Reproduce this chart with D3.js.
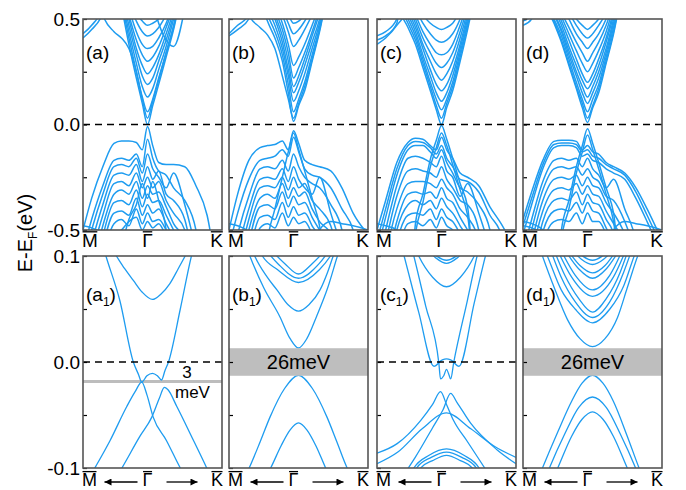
<!DOCTYPE html>
<html>
<head>
<meta charset="utf-8">
<script src="https://cdn.jsdelivr.net/npm/d3@7"></script>
<style>
  body { margin: 0; background: #fff; }
  svg { display: block; font-family: Arial, "Liberation Sans", sans-serif; }
</style>
</head>
<body>
<div id="chart"></div>
<script>
// k grid for the wide panels (M = -0.866, Gamma = 0, K = 1)
const kTop = [-0.866,-0.75,-0.6,-0.45,-0.35,-0.25,-0.15,-0.07,0,0.07,0.15,0.25,0.35,0.5,0.65,0.8,1];

// energies (eV) on kTop, one row per band (values beyond +-0.5 are clipped)
const bandsA = [
  [.9,.9,.9,.72,.56,.38,.22,.1,0,.09,.19,.32,.45,.7,.9,.9,.9],
  [.9,.9,.9,.73,.58,.41,.25,.13,.06,.12,.22,.34,.47,.72,.9,.9,.9],
  [.9,.9,.9,.75,.6,.44,.29,.18,.13,.17,.26,.37,.5,.74,.9,.9,.9],
  [.9,.9,.9,.76,.62,.47,.33,.23,.19,.22,.3,.4,.52,.76,.9,.9,.9],
  [.9,.9,.9,.78,.64,.5,.36,.28,.24,.27,.33,.43,.54,.78,.9,.9,.9],
  [.9,.9,.9,.8,.66,.52,.4,.33,.3,.32,.37,.46,.56,.8,.9,.9,.9],
  [.9,.9,.9,.8,.67,.55,.44,.38,.36,.37,.41,.48,.58,.8,.9,.9,.9],
  [.9,.9,.9,.8,.68,.58,.49,.44,.42,.43,.46,.52,.6,.8,.9,.9,.9],
  [.9,.9,.9,.8,.7,.6,.53,.49,.47,.48,.5,.55,.62,.8,.9,.9,.9],
  [.9,.9,.52,.44,.41,.36,.25,.12,.03,.11,.21,.34,.46,.72,.9,.9,.9],
  [.43,.47,.56,.9,.9,.9,.9,.9,.9,.9,.9,.9,.9,.9,.9,.9,.9],
  [.41,.45,.53,.9,.9,.9,.9,.9,.9,.9,.9,.9,.9,.9,.9,.9,.9],
  [.9,.9,.9,.9,.9,.9,.9,.9,.9,.6,.48,.4,.37,.55,.9,.9,.9],
  [-.5,-.35,-.2,-.09,-.078,-.078,-.085,-.12,-.01,-.1,-.18,-.19,-.19,-.2,-.29,-.43,-.9],
  [-.6,-.45,-.29,-.17,-.16,-.17,-.14,-.2,-.07,-.16,-.22,-.24,-.3,-.36,-.5,-.9,-.9],
  [-.66,-.5,-.33,-.2,-.19,-.2,-.16,-.23,-.14,-.21,-.25,-.3,-.23,-.38,-.6,-.9,-.9],
  [-.72,-.56,-.38,-.24,-.23,-.24,-.19,-.27,-.2,-.26,-.22,-.33,-.36,-.45,-.7,-.9,-.9],
  [-.8,-.62,-.43,-.28,-.27,-.29,-.23,-.3,-.25,-.3,-.27,-.36,-.42,-.5,-.8,-.9,-.9],
  [-.9,-.7,-.48,-.33,-.31,-.33,-.27,-.35,-.29,-.33,-.32,-.39,-.47,-.55,-.9,-.9,-.9],
  [-.9,-.78,-.53,-.37,-.36,-.38,-.31,-.39,-.33,-.37,-.36,-.43,-.5,-.6,-.9,-.9,-.9],
  [-.9,-.86,-.58,-.42,-.41,-.43,-.35,-.43,-.38,-.42,-.4,-.47,-.55,-.9,-.9,-.9,-.9],
  [-.9,-.9,-.63,-.47,-.45,-.48,-.4,-.47,-.42,-.46,-.45,-.5,-.58,-.9,-.9,-.9,-.9],
  [-.9,-.9,-.7,-.52,-.5,-.46,-.44,-.5,-.46,-.49,-.47,-.53,-.6,-.9,-.9,-.9,-.9],
  [-.48,-.49,-.52,-.9,-.9,-.9,-.9,-.9,-.9,-.9,-.9,-.9,-.9,-.9,-.9,-.9,-.9],
  [-.9,-.9,-.9,-.9,-.6,-.45,-.38,-.28,-.35,-.27,-.36,-.5,-.9,-.9,-.9,-.9,-.9]
];

const bandsB = [
  [.9,.9,.9,.6,.49,.41,.3,.15,.015,.09,.16,.3,.44,.7,.9,.9,.9],
  [.9,.9,.9,.62,.52,.44,.33,.19,.06,.12,.2,.33,.46,.72,.9,.9,.9],
  [.9,.9,.9,.65,.55,.47,.36,.23,.11,.16,.24,.36,.48,.74,.9,.9,.9],
  [.9,.9,.9,.68,.58,.5,.39,.26,.15,.2,.28,.39,.5,.76,.9,.9,.9],
  [.9,.9,.9,.7,.6,.52,.42,.3,.18,.23,.31,.42,.53,.78,.9,.9,.9],
  [.9,.9,.9,.72,.62,.54,.45,.34,.22,.27,.34,.44,.55,.8,.9,.9,.9],
  [.9,.9,.9,.75,.65,.57,.48,.38,.28,.32,.38,.47,.57,.8,.9,.9,.9],
  [.9,.9,.9,.78,.68,.6,.52,.44,.37,.4,.45,.52,.6,.8,.9,.9,.9],
  [.9,.9,.9,.8,.7,.62,.55,.48,.43,.45,.49,.55,.62,.8,.9,.9,.9],
  [.9,.9,.9,.8,.72,.64,.57,.52,.48,.49,.52,.57,.64,.8,.9,.9,.9],
  [.9,.9,.52,.46,.425,.36,.23,.12,.03,.1,.18,.31,.45,.7,.9,.9,.9],
  [.43,.47,.52,.9,.9,.9,.9,.9,.9,.9,.9,.9,.9,.9,.9,.9,.9],
  [.42,.45,.5,.9,.9,.9,.9,.9,.9,.9,.9,.9,.9,.9,.9,.9,.9],
  [-.5,-.33,-.17,-.11,-.1,-.095,-.078,-.12,-.03,-.09,-.17,-.19,-.2,-.22,-.3,-.42,-.52],
  [-.58,-.42,-.26,-.17,-.16,-.15,-.12,-.15,-.06,-.13,-.21,-.24,-.25,-.3,-.4,-.5,-.9],
  [-.9,-.9,-.9,-.9,-.55,-.4,-.25,-.13,-.04,-.12,-.22,-.35,-.48,-.9,-.9,-.9,-.9],
  [-.7,-.52,-.34,-.21,-.2,-.21,-.17,-.22,-.14,-.2,-.25,-.28,-.3,-.38,-.5,-.9,-.9],
  [-.78,-.6,-.4,-.26,-.25,-.26,-.21,-.27,-.2,-.26,-.3,-.33,-.25,-.42,-.6,-.9,-.9],
  [-.9,-.68,-.45,-.3,-.29,-.3,-.25,-.31,-.25,-.3,-.28,-.36,-.4,-.48,-.7,-.9,-.9],
  [-.9,-.76,-.5,-.35,-.33,-.35,-.28,-.35,-.3,-.34,-.32,-.4,-.46,-.52,-.9,-.9,-.9],
  [-.9,-.85,-.56,-.39,-.38,-.4,-.32,-.39,-.34,-.38,-.37,-.44,-.5,-.58,-.9,-.9,-.9],
  [-.9,-.9,-.62,-.44,-.43,-.45,-.37,-.44,-.39,-.43,-.42,-.48,-.55,-.9,-.9,-.9,-.9],
  [-.9,-.9,-.7,-.49,-.47,-.49,-.42,-.48,-.44,-.47,-.46,-.52,-.6,-.9,-.9,-.9,-.9],
  [-.47,-.48,-.51,-.9,-.9,-.9,-.9,-.9,-.9,-.9,-.9,-.9,-.9,-.9,-.9,-.9,-.9],
  [-.9,-.9,-.9,-.9,-.9,-.9,-.9,-.9,-.9,-.9,-.9,-.7,-.5,-.46,-.47,-.48,-.5]
];

const bandsC = [
  [.9,.9,.58,.46,.38,.27,.16,.07,0,.08,.16,.3,.45,.7,.9,.9,.9],
  [.9,.9,.6,.48,.4,.29,.18,.09,.03,.1,.18,.32,.47,.72,.9,.9,.9],
  [.9,.9,.62,.5,.42,.31,.2,.12,.07,.12,.2,.34,.48,.74,.9,.9,.9],
  [.9,.9,.64,.52,.44,.33,.23,.15,.11,.15,.23,.36,.5,.76,.9,.9,.9],
  [.9,.9,.66,.54,.46,.36,.26,.19,.16,.19,.26,.38,.52,.78,.9,.9,.9],
  [.9,.9,.68,.56,.48,.38,.3,.24,.21,.24,.3,.41,.54,.8,.9,.9,.9],
  [.9,.9,.7,.58,.5,.41,.34,.29,.27,.29,.34,.44,.56,.8,.9,.9,.9],
  [.9,.9,.72,.6,.52,.44,.38,.34,.33,.34,.38,.47,.58,.8,.9,.9,.9],
  [.9,.9,.74,.62,.55,.48,.43,.4,.39,.4,.43,.5,.6,.8,.9,.9,.9],
  [.9,.9,.76,.64,.58,.52,.48,.46,.45,.46,.48,.54,.62,.8,.9,.9,.9],
  [.42,.44,.5,.9,.9,.9,.9,.9,.9,.9,.9,.9,.9,.9,.9,.9,.9],
  [.4,.42,.48,.9,.9,.9,.9,.9,.9,.9,.9,.9,.9,.9,.9,.9,.9],
  [.38,.41,.47,.56,.9,.9,.9,.9,.9,.9,.9,.9,.9,.9,.9,.9,.9],
  [-.9,-.9,-.9,-.9,-.47,-.33,-.165,-.075,-.005,-.07,-.16,-.28,-.39,-.9,-.9,-.9,-.9],
  [-.9,-.9,-.9,-.9,-.52,-.37,-.2,-.11,-.04,-.1,-.19,-.31,-.43,-.9,-.9,-.9,-.9],
  [-.5,-.36,-.18,-.085,-.065,-.07,-.1,-.12,-.06,-.12,-.16,-.23,-.25,-.29,-.39,-.47,-.6],
  [-.55,-.4,-.21,-.1,-.08,-.085,-.11,-.14,-.1,-.16,-.2,-.26,-.27,-.32,-.43,-.52,-.9],
  [-.6,-.44,-.24,-.12,-.1,-.1,-.13,-.16,-.12,-.18,-.23,-.3,-.32,-.38,-.5,-.9,-.9],
  [-.68,-.5,-.29,-.16,-.15,-.16,-.18,-.2,-.15,-.22,-.25,-.34,-.28,-.42,-.6,-.9,-.9],
  [-.75,-.56,-.34,-.22,-.21,-.22,-.23,-.25,-.2,-.26,-.3,-.36,-.38,-.5,-.9,-.9,-.9],
  [-.85,-.62,-.4,-.28,-.27,-.27,-.28,-.3,-.26,-.3,-.33,-.4,-.44,-.55,-.9,-.9,-.9],
  [-.9,-.7,-.46,-.33,-.32,-.33,-.32,-.35,-.3,-.35,-.37,-.44,-.5,-.6,-.9,-.9,-.9],
  [-.9,-.78,-.5,-.38,-.36,-.38,-.36,-.4,-.35,-.39,-.42,-.48,-.55,-.9,-.9,-.9,-.9],
  [-.9,-.86,-.56,-.43,-.42,-.43,-.4,-.45,-.4,-.44,-.46,-.52,-.6,-.9,-.9,-.9,-.9],
  [-.9,-.9,-.62,-.47,-.46,-.48,-.45,-.49,-.44,-.48,-.5,-.56,-.9,-.9,-.9,-.9,-.9],
  [-.47,-.48,-.5,-.9,-.9,-.9,-.9,-.9,-.9,-.9,-.9,-.9,-.9,-.9,-.9,-.9,-.9]
];

const bandsD = [
  [.9,.9,.6,.48,.39,.28,.17,.08,.01,.08,.15,.29,.43,.7,.9,.9,.9],
  [.9,.9,.61,.49,.4,.29,.18,.1,.03,.09,.17,.3,.44,.71,.9,.9,.9],
  [.9,.9,.62,.5,.42,.31,.2,.12,.06,.12,.19,.32,.46,.72,.9,.9,.9],
  [.9,.9,.64,.52,.44,.33,.23,.15,.1,.15,.22,.34,.48,.74,.9,.9,.9],
  [.9,.9,.65,.53,.45,.35,.25,.18,.13,.18,.25,.36,.5,.76,.9,.9,.9],
  [.9,.9,.67,.55,.47,.37,.28,.21,.17,.21,.28,.39,.52,.78,.9,.9,.9],
  [.9,.9,.68,.56,.49,.4,.31,.24,.2,.24,.31,.41,.54,.8,.9,.9,.9],
  [.9,.9,.7,.58,.51,.43,.35,.29,.25,.29,.35,.44,.56,.8,.9,.9,.9],
  [.9,.9,.72,.6,.53,.46,.39,.34,.3,.34,.39,.47,.58,.8,.9,.9,.9],
  [.9,.9,.74,.62,.56,.5,.43,.39,.36,.39,.43,.5,.6,.8,.9,.9,.9],
  [.9,.9,.76,.64,.58,.53,.47,.43,.41,.43,.47,.53,.62,.8,.9,.9,.9],
  [.9,.9,.78,.66,.6,.55,.5,.47,.45,.47,.5,.56,.64,.8,.9,.9,.9],
  [.49,.52,.9,.9,.9,.9,.9,.9,.9,.9,.9,.9,.9,.9,.9,.9,.9],
  [.47,.5,.9,.9,.9,.9,.9,.9,.9,.9,.9,.9,.9,.9,.9,.9,.9],
  [-.9,-.9,-.9,-.9,-.5,-.36,-.2,-.1,-.02,-.09,-.18,-.3,-.42,-.9,-.9,-.9,-.9],
  [-.9,-.9,-.9,-.9,-.54,-.4,-.23,-.13,-.05,-.12,-.21,-.33,-.46,-.9,-.9,-.9,-.9],
  [-.45,-.32,-.17,-.08,-.075,-.075,-.08,-.12,-.1,-.13,-.14,-.18,-.2,-.23,-.3,-.4,-.55],
  [-.48,-.35,-.19,-.095,-.088,-.088,-.095,-.13,-.12,-.15,-.16,-.19,-.21,-.24,-.32,-.43,-.58],
  [-.52,-.38,-.21,-.11,-.1,-.1,-.11,-.15,-.14,-.17,-.18,-.21,-.23,-.26,-.35,-.46,-.62],
  [-.6,-.45,-.27,-.17,-.16,-.17,-.16,-.2,-.16,-.21,-.24,-.3,-.26,-.4,-.55,-.9,-.9],
  [-.68,-.5,-.31,-.21,-.2,-.21,-.2,-.24,-.21,-.25,-.27,-.34,-.36,-.46,-.62,-.9,-.9],
  [-.76,-.56,-.36,-.26,-.25,-.26,-.24,-.29,-.25,-.29,-.3,-.37,-.42,-.52,-.7,-.9,-.9],
  [-.85,-.62,-.41,-.31,-.3,-.31,-.28,-.33,-.29,-.33,-.34,-.41,-.47,-.58,-.9,-.9,-.9],
  [-.9,-.7,-.46,-.36,-.35,-.36,-.32,-.38,-.33,-.37,-.38,-.45,-.52,-.9,-.9,-.9,-.9],
  [-.9,-.78,-.51,-.41,-.4,-.41,-.37,-.42,-.37,-.41,-.42,-.49,-.56,-.9,-.9,-.9,-.9],
  [-.9,-.88,-.57,-.46,-.45,-.46,-.42,-.47,-.42,-.46,-.46,-.52,-.6,-.9,-.9,-.9,-.9],
  [-.46,-.47,-.5,-.9,-.9,-.9,-.9,-.9,-.9,-.9,-.9,-.9,-.9,-.9,-.9,-.9,-.9],
  [-.48,-.49,-.52,-.9,-.9,-.9,-.9,-.9,-.9,-.9,-.9,-.9,-.9,-.9,-.9,-.9,-.9],
  [-.9,-.9,-.9,-.9,-.9,-.9,-.9,-.9,-.9,-.9,-.9,-.7,-.5,-.46,-.47,-.48,-.5]
];

// zoomed panels: each band is a list of [k, E] points, Gamma at k = 0
const bandsA1 = [
  [[-0.6,0.108],[-0.52,0.1],[-0.4,0.088],[-0.276,0.077],[-0.15,0.066],[0,0.059],[0.12,0.064],[0.25,0.074],[0.37,0.088],[0.47,0.1],[0.55,0.11]],
  [[-0.75,0.118],[-0.67,0.1],[-0.47,0.058],[-0.276,0],[-0.2,-0.012],[-0.155,-0.019],[-0.08,-0.013],[0,-0.0107],[0.07,-0.013],[0.13,-0.017],[0.18,-0.008],[0.23,0],[0.4,0.05],[0.56,0.1],[0.62,0.115]],
  [[-0.9,-0.108],[-0.83,-0.1],[-0.61,-0.074],[-0.37,-0.042],[-0.25,-0.028],[-0.155,-0.019],[-0.08,-0.031],[0.01,-0.052],[0.2,-0.074],[0.4,-0.1],[0.45,-0.106]],
  [[-0.55,-0.112],[-0.44,-0.1],[-0.18,-0.07],[-0.01,-0.052],[0.1,-0.034],[0.17,-0.024],[0.22,-0.026],[0.35,-0.042],[0.56,-0.07],[0.78,-0.1],[0.85,-0.11]]
];

const bandsB1 = [
  [[-0.8,0.118],[-0.7,0.1],[-0.5,0.07],[-0.27,0.043],[-0.12,0.022],[0,0.0132],[0.12,0.022],[0.26,0.043],[0.42,0.07],[0.56,0.1],[0.65,0.118]],
  [[-0.72,0.115],[-0.63,0.1],[-0.45,0.08],[-0.31,0.068],[-0.15,0.054],[0,0.048],[0.15,0.054],[0.31,0.068],[0.42,0.085],[0.5,0.1],[0.6,0.115]],
  [[-0.6,0.11],[-0.52,0.1],[-0.3,0.087],[0,0.075],[0.3,0.087],[0.46,0.1],[0.55,0.11]],
  [[-0.5,0.108],[-0.3,0.093],[0,0.079],[0.3,0.093],[0.45,0.106]],
  [[-0.4,0.106],[-0.2,0.093],[0,0.083],[0.2,0.093],[0.38,0.105]],
  [[-0.8,-0.112],[-0.71,-0.1],[-0.55,-0.075],[-0.41,-0.052],[-0.2,-0.025],[0,-0.0126],[0.2,-0.025],[0.41,-0.052],[0.55,-0.075],[0.7,-0.1],[0.8,-0.112]],
  [[-0.48,-0.11],[-0.4,-0.1],[-0.25,-0.079],[-0.12,-0.064],[0,-0.0575],[0.12,-0.064],[0.25,-0.079],[0.39,-0.1],[0.46,-0.11]]
];

const bandsC1 = [
  [[-0.5,0.115],[-0.4,0.1],[-0.2,0.08],[0,0.071],[0.2,0.08],[0.4,0.1],[0.5,0.115]],
  [[-0.3,0.108],[-0.15,0.098],[0,0.093],[0.15,0.098],[0.3,0.108]],
  [[-0.25,0.106],[0,0.096],[0.25,0.106]],
  [[-0.7,0.122],[-0.61,0.1],[-0.4,0.047],[-0.18,-0.004],[-0.06,0.002],[0,0.003],[0.06,0.002],[0.18,-0.004],[0.4,0.056],[0.56,0.1],[0.65,0.122]],
  [[-0.55,0.12],[-0.47,0.1],[-0.3,0.053],[-0.11,-0.001],[-0.086,-0.016],[-0.04,-0.013],[0,-0.007],[0.03,-0.011],[0.06,-0.016],[0.105,0],[0.3,0.058],[0.44,0.1],[0.5,0.115]],
  [[-1,-0.086],[-0.71,-0.077],[-0.37,-0.055],[-0.2,-0.04],[-0.086,-0.028],[0,-0.04],[0.1,-0.055],[0.3,-0.075],[0.55,-0.1],[0.6,-0.105]],
  [[-0.6,-0.105],[-0.45,-0.09],[-0.2,-0.062],[-0.05,-0.045],[0.06,-0.0296],[0.15,-0.038],[0.35,-0.058],[0.73,-0.083],[1,-0.096]],
  [[-1,-0.096],[-0.7,-0.085],[-0.35,-0.063],[0,-0.048],[0.35,-0.063],[0.7,-0.08],[1,-0.09]],
  [[-0.55,-0.11],[-0.47,-0.1],[-0.25,-0.088],[0,-0.082],[0.25,-0.088],[0.47,-0.1],[0.55,-0.11]],
  [[-0.5,-0.11],[-0.43,-0.1],[-0.22,-0.09],[0,-0.085],[0.22,-0.09],[0.43,-0.1],[0.5,-0.11]],
  [[-0.45,-0.11],[-0.37,-0.1],[-0.2,-0.093],[0,-0.088],[0.2,-0.093],[0.37,-0.1],[0.45,-0.11]]
];

const bandsD1 = [
  [[-0.8,0.115],[-0.72,0.1],[-0.55,0.07],[-0.36,0.04],[-0.18,0.022],[0,0.0145],[0.18,0.022],[0.36,0.042],[0.5,0.07],[0.65,0.1],[0.72,0.112]],
  [[-0.75,0.115],[-0.65,0.1],[-0.45,0.068],[-0.25,0.05],[0,0.037],[0.25,0.05],[0.45,0.072],[0.6,0.1],[0.68,0.113]],
  [[-0.6,0.105],[-0.45,0.08],[-0.25,0.057],[0,0.042],[0.25,0.057],[0.45,0.085],[0.55,0.103]],
  [[-0.55,0.105],[-0.4,0.082],[-0.2,0.06],[0,0.047],[0.2,0.06],[0.4,0.085],[0.5,0.103]],
  [[-0.5,0.105],[-0.3,0.08],[0,0.062],[0.3,0.08],[0.47,0.104]],
  [[-0.45,0.105],[-0.25,0.082],[0,0.068],[0.25,0.082],[0.42,0.104]],
  [[-0.4,0.106],[-0.2,0.088],[0,0.079],[0.2,0.088],[0.38,0.105]],
  [[-0.35,0.105],[-0.18,0.091],[0,0.084],[0.18,0.091],[0.33,0.104]],
  [[-0.3,0.106],[0,0.092],[0.3,0.106]],
  [[-0.25,0.106],[0,0.096],[0.25,0.106]],
  [[-0.8,-0.113],[-0.72,-0.1],[-0.5,-0.066],[-0.3,-0.037],[-0.15,-0.02],[0,-0.0125],[0.15,-0.02],[0.3,-0.037],[0.5,-0.07],[0.67,-0.1],[0.75,-0.113]],
  [[-0.7,-0.113],[-0.62,-0.1],[-0.4,-0.068],[-0.2,-0.043],[0,-0.033],[0.2,-0.043],[0.4,-0.068],[0.62,-0.1],[0.7,-0.113]],
  [[-0.58,-0.112],[-0.5,-0.1],[-0.3,-0.07],[-0.15,-0.054],[0,-0.047],[0.15,-0.054],[0.3,-0.07],[0.5,-0.1],[0.58,-0.112]]
];

// gaps / markers (eV)
const gapBand = [-0.013, 0.013];      // 26 meV window in (b1), (d1)
const smallGapLevel = -0.0185;        // 3 meV line in (a1)

// axis ticks and labels
const yTopTicks = [-0.5, 0, 0.5], yTopLabels = ["-0.5", "0.0", "0.5"], yTopMinor = [-0.25, 0.25];
const yBotTicks = [-0.1, 0, 0.1], yBotLabels = ["-0.1", "0.0", "0.1"], yBotMinor = [-0.05, 0.05];
const kPoints = [-0.866, 0, 1], kNames = ["M", "Γ", "K"];
const panelNames = ["a", "b", "c", "d"];

// layout
const w = 686, h = 490;
const colX = [83, 229, 377, 523], panelW = 139;
const rows = [{y0: 19, y1: 230, dom: [-0.5, 0.5]}, {y0: 256, y1: 468, dom: [-0.1, 0.1]}];
const blue = "#1e9cf0";

const svg = d3.select("#chart").append("svg")
  .attr("width", w).attr("height", h).attr("viewBox", [0, 0, w, h]);

const defs = svg.append("defs");
defs.append("marker")
    .attr("id", "arrow")
    .attr("viewBox", "0 0 10 10")
    .attr("refX", 10).attr("refY", 5)
    .attr("markerUnits", "userSpaceOnUse")
    .attr("markerWidth", 11).attr("markerHeight", 7)
    .attr("orient", "auto")
  .append("path")
    .attr("d", "M0,0L10,5L0,10z")
    .attr("fill", "#000");

const topSets = [bandsA, bandsB, bandsC, bandsD];
const botSets = [bandsA1, bandsB1, bandsC1, bandsD1];

function overlined(g, x, y, txt, anchor, size) {
  const t = g.append("text")
    .attr("x", x).attr("y", y)
    .attr("text-anchor", anchor)
    .attr("font-size", size)
    .text(txt);
  const b = t.node().getBBox();
  g.append("line")
    .attr("x1", b.x + 0.5).attr("x2", b.x + b.width - 0.5)
    .attr("y1", y - size * 0.8).attr("y2", y - size * 0.8)
    .attr("stroke", "#000").attr("stroke-width", 1.3);
}

rows.forEach((row, r) => {
  colX.forEach((x0, c) => {
    const id = `clip${r}${c}`;
    const y = d3.scaleLinear().domain(row.dom).range([row.y1, row.y0]);
    const x = r === 0
      ? d3.scaleLinear().domain([-0.866, 1]).range([x0, x0 + panelW])
      : d3.scaleLinear().domain([-1, 1]).range([x0, x0 + panelW]);
    const xLab = d3.scaleLinear().domain([-0.866, 1]).range([x0, x0 + panelW]);

    defs.append("clipPath").attr("id", id)
      .append("rect")
        .attr("x", x0).attr("y", row.y0)
        .attr("width", panelW).attr("height", row.y1 - row.y0);

    const g = svg.append("g");
    const plot = g.append("g").attr("clip-path", `url(#${id})`);

    // gray marker under the bands
    if (r === 1 && c === 0) {
      plot.append("line")
        .attr("x1", x0).attr("x2", x0 + panelW)
        .attr("y1", y(smallGapLevel)).attr("y2", y(smallGapLevel))
        .attr("stroke", "#bdbdbd").attr("stroke-width", 3);
    }

    const line = d3.line()
      .x(d => x(d[0]))
      .y(d => y(d[1]))
      .curve(d3.curveMonotoneX);

    const bands = r === 0
      ? topSets[c].map(b => b.map((e, i) => [kTop[i], e]))
      : botSets[c];

    plot.selectAll("path.band")
      .data(bands)
      .join("path")
        .attr("class", "band")
        .attr("d", line)
        .attr("fill", "none")
        .attr("stroke", blue)
        .attr("stroke-width", r === 0 ? 1.5 : 1.3);

    // Fermi level
    plot.append("line")
      .attr("x1", x0).attr("x2", x0 + panelW)
      .attr("y1", y(0)).attr("y2", y(0))
      .attr("stroke", "#000").attr("stroke-width", 1.5)
      .attr("stroke-dasharray", "7,5");

    if (r === 1 && (c === 1 || c === 3)) {
      plot.append("rect")
        .attr("x", x0).attr("width", panelW)
        .attr("y", y(gapBand[1])).attr("height", y(gapBand[0]) - y(gapBand[1]))
        .attr("fill", "#bebebe");
      g.append("text")
        .attr("x", x0 + panelW / 2).attr("y", y(0))
        .attr("dy", "0.36em")
        .attr("text-anchor", "middle")
        .attr("font-size", 20)
        .text("26meV");
    }
    if (r === 1 && c === 0) {
      g.append("text")
        .attr("x", x0 + 104).attr("y", y(smallGapLevel) - 4)
        .attr("text-anchor", "middle").attr("font-size", 17)
        .text("3");
      g.append("text")
        .attr("x", x0 + 92).attr("y", y(smallGapLevel) + 16)
        .attr("font-size", 17)
        .text("meV");
    }

    // inward tick marks
    g.append("g")
      .attr("transform", `translate(${x0},0)`)
      .call(d3.axisLeft(y)
        .tickValues(r === 0 ? yTopTicks.concat(yTopMinor) : yBotTicks.concat(yBotMinor))
        .tickSize(-4).tickFormat(""))
      .call(a => a.select(".domain").remove())
      .call(a => a.selectAll("line").attr("stroke", "#000").attr("stroke-width", 1.2));

    // tick labels on the first column
    if (c === 0) {
      const vals = r === 0 ? yTopTicks : yBotTicks;
      const labs = r === 0 ? yTopLabels : yBotLabels;
      g.append("g")
        .attr("transform", `translate(${x0},0)`)
        .call(d3.axisLeft(y).tickValues(vals).tickSize(0).tickPadding(3)
          .tickFormat((d, i) => labs[i]))
        .call(a => a.select(".domain").remove())
        .call(a => a.selectAll("text")
          .attr("font-size", 19)
          .attr("font-family", "Arial, 'Liberation Sans', sans-serif")
          .attr("fill", "#000"));
    }

    // frame
    g.append("rect")
      .attr("x", x0).attr("y", row.y0)
      .attr("width", panelW).attr("height", row.y1 - row.y0)
      .attr("fill", "none").attr("stroke", "#555").attr("stroke-width", 1.6);

    // panel label
    const lab = g.append("text")
      .attr("x", x0 + 3).attr("y", row.y0 + (r === 0 ? 40 : 45))
      .attr("font-size", 19);
    lab.append("tspan").text("(" + panelNames[c]);
    if (r === 1) {
      lab.append("tspan").attr("font-size", 12).attr("dy", 5).text("1");
      lab.append("tspan").attr("dy", -5).text(")");
    } else {
      lab.append("tspan").text(")");
    }

    // k-point labels
    const base = r === 0 ? 247 : 486;
    const fs = r === 0 ? 19 : 18;
    overlined(g, xLab(kPoints[0]) - 1, base, kNames[0], "start", fs);
    overlined(g, xLab(kPoints[1]), base, kNames[1], "middle", fs);
    overlined(g, xLab(kPoints[2]) + 1, base, kNames[2], "end", fs);

    if (r === 1) {
      const gx = xLab(0);
      g.append("line")
        .attr("x1", gx - 10).attr("x2", gx - 43)
        .attr("y1", base - 4).attr("y2", base - 4)
        .attr("stroke", "#000").attr("stroke-width", 1.3)
        .attr("marker-end", "url(#arrow)");
      g.append("line")
        .attr("x1", gx + 19).attr("x2", gx + 50)
        .attr("y1", base - 4).attr("y2", base - 4)
        .attr("stroke", "#000").attr("stroke-width", 1.3)
        .attr("marker-end", "url(#arrow)");
    }
  });
});

// y axis title
const title = svg.append("text")
  .attr("transform", "translate(32,233) rotate(-90)")
  .attr("text-anchor", "middle")
  .attr("font-size", 20);
title.append("tspan").text("E-E");
title.append("tspan").attr("font-size", 12).attr("dy", 5).text("F");
title.append("tspan").attr("dy", -5).text("(eV)");
</script>
</body>
</html>
